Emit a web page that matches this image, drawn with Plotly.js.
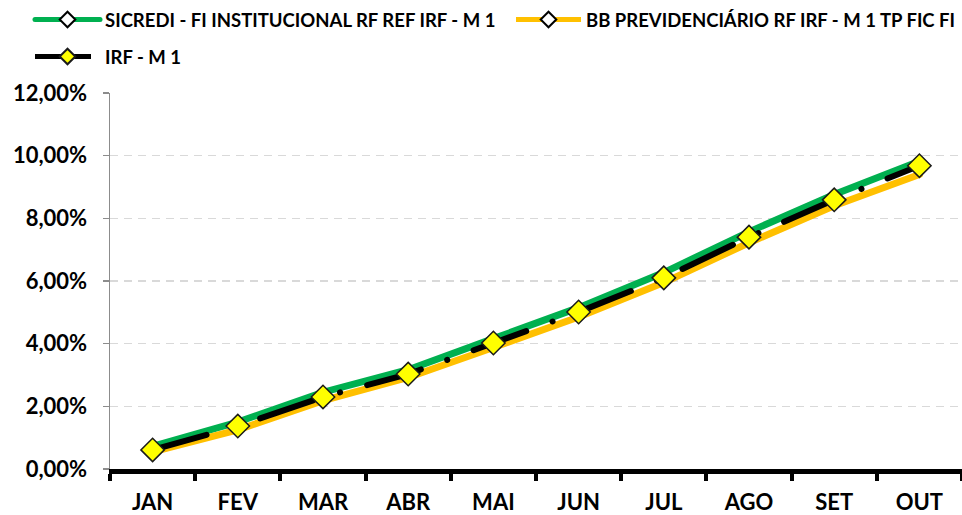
<!DOCTYPE html>
<html>
<head>
<meta charset="utf-8">
<script src="https://cdn.plot.ly/plotly-3.0.1.min.js"></script>
<style>
  html, body { margin: 0; padding: 0; background: #fff; }
  #plot { width: 962px; height: 515px; }
  /* excel draws round line ends */
  .scatterlayer .js-line, .legend .js-line { stroke-linecap: round; }
</style>
</head>
<body>
<div id="plot"></div>
<script>
// months shown on the x axis
const meses = ["JAN", "FEV", "MAR", "ABR", "MAI", "JUN", "JUL", "AGO", "SET", "OUT"];

// accumulated return (%)
const sicredi = [0.72, 1.50, 2.45, 3.17, 4.16, 5.15, 6.27, 7.57, 8.76, 9.82];
const bbPrev = [0.55, 1.25, 2.18, 2.92, 3.88, 4.85, 5.95, 7.22, 8.40, 9.40];
const irfM1 = [0.61, 1.37, 2.30, 3.03, 4.02, 5.01, 6.10, 7.40, 8.59, 9.68];

const nomes = [
    "SICREDI - FI INSTITUCIONAL RF REF IRF - M 1",
    "BB PREVIDENCIÁRIO RF IRF - M 1 TP FIC FI",
    "IRF - M 1"
];

const fonte = "Lato, 'Open Sans', sans-serif";

// the small hollow diamonds only matter for the legend
const marcaLegenda = { symbol: 'diamond', size: 2, color: '#fff', line: { color: '#000', width: 1.5 } };

let data = [
    {
        x: meses, y: sicredi, name: nomes[0], type: 'scatter', mode: 'lines+markers',
        line: { color: '#00B050', width: 7 }, marker: marcaLegenda, legend: 'legend'
    },
    {
        x: meses, y: bbPrev, name: nomes[1], type: 'scatter', mode: 'lines+markers',
        line: { color: '#FFC000', width: 7 }, marker: marcaLegenda, legend: 'legend3'
    },
    {
        x: meses, y: irfM1, name: nomes[2], type: 'scatter', mode: 'lines+markers',
        line: { color: '#000000', width: 6, dash: '56px,28px,0.1px,28px' },
        marker: { symbol: 'diamond', size: 18, color: '#FFFF00', line: { color: '#1a1a1a', width: 1.5 } },
        legend: 'legend2'
    }
];

// one legend per entry so each one lands where the reference has it
const estiloLegenda = {
    orientation: 'h',
    xref: 'paper', yref: 'paper',
    xanchor: 'left', yanchor: 'middle',
    font: { family: fonte, size: 18.5, color: '#000', weight: 'bold' },
    bgcolor: 'rgba(0,0,0,0)',
    itemwidth: 65,
    itemsizing: 'constant'
};
const px2x = px => (px - 110) / 852;
const px2y = px => (469 - px) / 376;

let layout = {
    width: 962,
    height: 515,
    margin: { l: 110, r: 0, t: 93, b: 46 },
    paper_bgcolor: '#fff',
    plot_bgcolor: '#fff',
    separators: ',.',
    font: { family: fonte, color: '#000', size: 17, weight: 'bold' },
    showlegend: true,
    legend: Object.assign({}, estiloLegenda, { x: px2x(30), y: px2y(20) }),
    legend3: Object.assign({}, estiloLegenda, { x: px2x(511), y: px2y(20) }),
    legend2: Object.assign({}, estiloLegenda, { x: px2x(30), y: px2y(57) }),
    xaxis: {
        type: 'category',
        range: [-0.5, 9.5],
        showgrid: false,
        showline: true, linecolor: '#000', linewidth: 5,
        ticks: 'outside', tickson: 'boundaries', ticklen: 7, tickwidth: 4, tickcolor: '#000',
        tickfont: { family: fonte, size: 22, weight: 'bold' },
        ticklabelstandoff: 10,
        zeroline: false,
        fixedrange: true
    },
    yaxis: {
        range: [0, 12],
        dtick: 2,
        tickformat: '.2f',
        ticksuffix: '%',
        showline: true, linecolor: '#8c8c8c', linewidth: 1.5,
        ticks: 'outside', ticklen: 6, tickcolor: '#8c8c8c', tickwidth: 1.5,
        showgrid: true, gridcolor: '#d9d9d9', gridwidth: 1.5, griddash: '8px,6px',
        zeroline: false,
        tickfont: { family: fonte, size: 22, weight: 'bold' },
        ticklabelstandoff: 11,
        fixedrange: true
    }
};

Plotly.newPlot('plot', data, layout, { staticPlot: true });
</script>
</body>
</html>
